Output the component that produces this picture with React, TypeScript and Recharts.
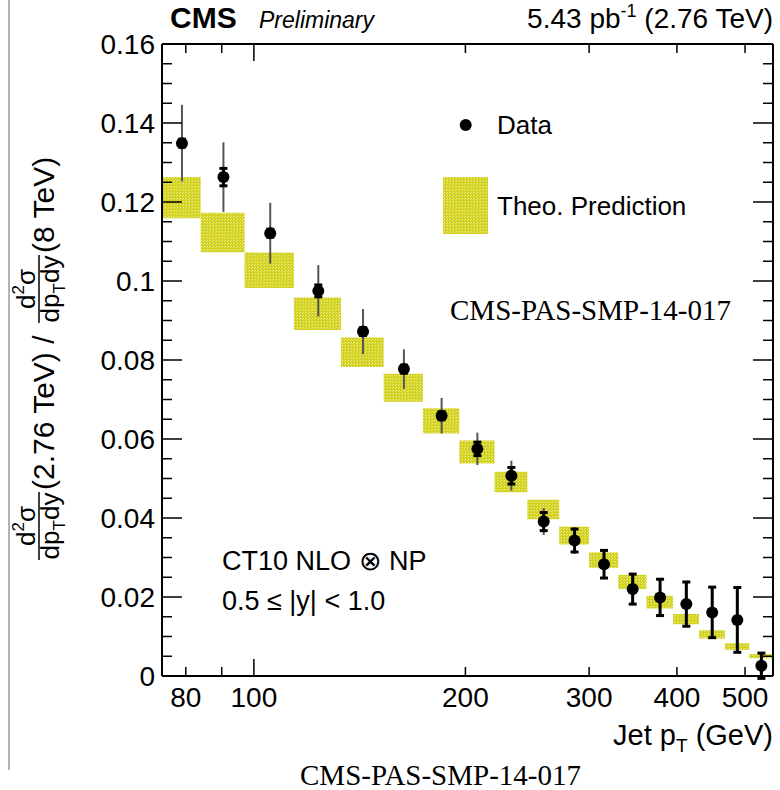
import { ComposedChart, XAxis, YAxis, Scatter, ErrorBar, ReferenceArea } from "recharts";

// jet pT bin edges (GeV) and data point positions
const binEdges = [74, 84, 97, 114, 133, 153, 174, 196, 220, 245, 272, 300, 330, 362, 395, 430, 468, 507, 548];
const ptCenter = [79, 90.5, 105.5, 123.5, 143, 163.5, 185, 208, 232.5, 258.5, 286, 315, 346, 378.5, 412.5, 449, 487.5, 527.5];

// measured ratio 2.76 TeV / 8 TeV
const ratio = [0.1349, 0.1263, 0.1121, 0.0975, 0.0872, 0.0777, 0.0659, 0.0575, 0.0507, 0.0391, 0.0343, 0.0283, 0.022, 0.0199, 0.0182, 0.0161, 0.0142, 0.0026];
const totErr = [0.0097, 0.0088, 0.0077, 0.0065, 0.0057, 0.005, 0.0045, 0.0041, 0.0038, 0.0034, 0.0034, 0.0035, 0.0038, 0.0046, 0.0056, 0.0064, 0.0082, 0.0032];
const statErr = [0.001, 0.0022, 0.001, 0.0015, 0.001, 0.001, 0.001, 0.0017, 0.0021, 0.0023, 0.0029, 0.0035, 0.0038, 0.0046, 0.0056, 0.0064, 0.0082, 0.0032];

// theory prediction band (CT10 NLO x NP)
const theoLow = [0.1159, 0.1073, 0.0982, 0.0876, 0.0782, 0.0694, 0.0614, 0.0538, 0.0465, 0.0397, 0.0333, 0.0274, 0.022, 0.0171, 0.0131, 0.0095, 0.0066, 0.0045];
const theoHigh = [0.1263, 0.1173, 0.1072, 0.0958, 0.0857, 0.0765, 0.0678, 0.0596, 0.0517, 0.0446, 0.0378, 0.0313, 0.0256, 0.0203, 0.0157, 0.0116, 0.0083, 0.0056];

const xTicks = [80, 90, 100, 200, 300, 400, 500];
const xLabelled = [80, 100, 200, 300, 400, 500];
const yTicks = [
  0, 0.005, 0.01, 0.015, 0.02, 0.025, 0.03, 0.035, 0.04, 0.045, 0.05, 0.055, 0.06, 0.065, 0.07, 0.075, 0.08,
  0.085, 0.09, 0.095, 0.1, 0.105, 0.11, 0.115, 0.12, 0.125, 0.13, 0.135, 0.14, 0.145, 0.15, 0.155, 0.16,
];

const points = ptCenter.map((pt, i) => ({ pt, val: ratio[i], tot: totErr[i], stat: statErr[i] }));

const SANS = "'Liberation Sans', Arial, Helvetica, sans-serif";
const SERIF = "'Liberation Serif', 'Times New Roman', serif";
const frame = { stroke: "#000", strokeWidth: 2 };

const isMajorY = (v: number) => Math.round(v * 1000) % 20 === 0;

function BottomTick(props: any) {
  const { x, y, payload } = props;
  const v = payload.value;
  const len = v === 100 ? 17 : 9;
  return (
    <g>
      <line x1={x} x2={x} y1={y} y2={y - len} stroke="#000" strokeWidth={1.5} />
      {xLabelled.includes(v) && (
        <text x={x} y={y + 31} textAnchor="middle" fontSize={28} fontFamily={SANS} fill="#000">
          {v}
        </text>
      )}
    </g>
  );
}

function TopTick(props: any) {
  const { x, y, payload } = props;
  const len = payload.value === 100 ? 17 : 9;
  return <line x1={x} x2={x} y1={y} y2={y + len} stroke="#000" strokeWidth={1.5} />;
}

function LeftTick(props: any) {
  const { x, y, payload } = props;
  const v = payload.value;
  const major = isMajorY(v);
  return (
    <g>
      <line x1={x} x2={x + (major ? 20 : 10)} y1={y} y2={y} stroke="#000" strokeWidth={1.5} />
      {major && (
        <text x={x - 7} y={y + 10} textAnchor="end" fontSize={28} fontFamily={SANS} fill="#000">
          {String(v)}
        </text>
      )}
    </g>
  );
}

function RightTick(props: any) {
  const { x, y, payload } = props;
  const major = isMajorY(payload.value);
  return <line x1={x} x2={x - (major ? 20 : 10)} y1={y} y2={y} stroke="#000" strokeWidth={1.5} />;
}

function Dot(props: any) {
  return <circle cx={props.cx} cy={props.cy} r={6} fill="#000" />;
}

function Fraction({ x }: { x: number }) {
  return (
    <g>
      <text x={x + 34} y={-19} fontSize={26} textAnchor="middle">
        d<tspan fontSize={17} dy={-11}>2</tspan>
        <tspan dy={11}>σ</tspan>
      </text>
      <line x1={x} x2={x + 68} y1={-15} y2={-15} stroke="#000" strokeWidth={1.5} />
      <text x={x + 34} y={5} fontSize={26} textAnchor="middle">
        dp<tspan fontSize={17} dy={6}>T</tspan>
        <tspan dy={-6}>dy</tspan>
      </text>
    </g>
  );
}

function Overlay() {
  return (
    <svg
      width={780}
      height={790}
      style={{ position: "absolute", left: 0, top: 0, pointerEvents: "none", overflow: "visible" }}
      fontFamily={SANS}
    >
      <rect x={8} y={0} width={2} height={770} fill="#b4b4b4" />

      <text x={170} y={28} fontSize={30} fontWeight="bold">CMS</text>
      <text x={259} y={28} fontSize={23} fontStyle="italic">Preliminary</text>
      <text x={773} y={28} fontSize={28} textAnchor="end">
        5.43 pb<tspan fontSize={18} dy={-11}>-1</tspan>
        <tspan dy={11}> (2.76 TeV)</tspan>
      </text>

      {/* legend */}
      <circle cx={465.7} cy={125} r={6} fill="#000" />
      <text x={497} y={134} fontSize={26}>Data</text>
      <rect x={443} y={177} width={45} height={57} fill="url(#theoPat)" />
      <text x={497} y={215} fontSize={26}>Theo. Prediction</text>

      <text x={450} y={320} fontSize={29} fontFamily={SERIF}>CMS-PAS-SMP-14-017</text>

      <text x={222} y={570} fontSize={27}>CT10 NLO ⊗ NP</text>
      <text x={222} y={610} fontSize={27}>0.5 ≤ |y| &lt; 1.0</text>

      {/* axis titles */}
      <text x={773} y={745} fontSize={29} textAnchor="end">
        Jet p<tspan fontSize={19} dy={7}>T</tspan>
        <tspan dy={-7}> (GeV)</tspan>
      </text>
      <g transform="translate(54,560) rotate(-90)" fill="#000">
        <Fraction x={0} />
        <text x={70} y={0} fontSize={30}>(2.76 TeV) /</text>
        <Fraction x={237} />
        <text x={307} y={0} fontSize={30}>(8 TeV)</text>
      </g>

      <text x={300} y={785} fontSize={29} fontFamily={SERIF}>CMS-PAS-SMP-14-017</text>
    </svg>
  );
}

export default function App() {
  return (
    <div style={{ position: "absolute", left: 0, top: 0, width: 780, height: 790, background: "#fff" }}>
      <svg width={0} height={0} style={{ position: "absolute" }}>
        <defs>
          <pattern id="theoPat" width={3} height={3} patternUnits="userSpaceOnUse">
            <rect width={3} height={3} fill="#d2d21e" />
            <rect x={0} y={0} width={1} height={1} fill="#f0f0a0" />
            <rect x={2} y={1} width={1} height={1} fill="#e6e670" />
          </pattern>
        </defs>
      </svg>
      <ComposedChart width={780} height={790} margin={{ top: 43, right: 6, bottom: 14, left: 12 }}>
        <XAxis
          xAxisId="b"
          type="number"
          dataKey="pt"
          scale="log"
          domain={[74, 548]}
          allowDataOverflow
          ticks={xTicks}
          interval={0}
          height={100}
          tickSize={0}
          tickMargin={0}
          tickLine={false}
          axisLine={frame}
          tick={BottomTick}
        />
        <XAxis
          xAxisId="t"
          orientation="top"
          type="number"
          dataKey="pt"
          scale="log"
          domain={[74, 548]}
          allowDataOverflow
          ticks={xTicks}
          interval={0}
          height={1}
          tickSize={0}
          tickMargin={0}
          tickLine={false}
          axisLine={frame}
          tick={TopTick}
        />
        <YAxis
          yAxisId="l"
          type="number"
          dataKey="val"
          domain={[0, 0.16]}
          allowDataOverflow
          ticks={yTicks}
          interval={0}
          width={150}
          tickSize={0}
          tickMargin={0}
          tickLine={false}
          axisLine={frame}
          tick={LeftTick}
        />
        <YAxis
          yAxisId="r"
          orientation="right"
          type="number"
          dataKey="val"
          domain={[0, 0.16]}
          allowDataOverflow
          ticks={yTicks}
          interval={0}
          width={1}
          tickSize={0}
          tickMargin={0}
          tickLine={false}
          axisLine={frame}
          tick={RightTick}
        />
        {theoLow.map((lo, i) => (
          <ReferenceArea
            key={i}
            xAxisId="b"
            yAxisId="l"
            x1={binEdges[i]}
            x2={binEdges[i + 1]}
            y1={lo}
            y2={theoHigh[i]}
            fill="url(#theoPat)"
            fillOpacity={1}
            stroke="none"
          />
        ))}
        <Scatter
          data={points}
          dataKey="val"
          xAxisId="b"
          yAxisId="l"
          shape={Dot}
          isAnimationActive={false}
        >
          <ErrorBar dataKey="tot" direction="y" width={0} stroke="#555" strokeWidth={2} isAnimationActive={false} />
          <ErrorBar dataKey="stat" direction="y" width={4} stroke="#000" strokeWidth={3} isAnimationActive={false} />
        </Scatter>
      </ComposedChart>
      <Overlay />
    </div>
  );
}
